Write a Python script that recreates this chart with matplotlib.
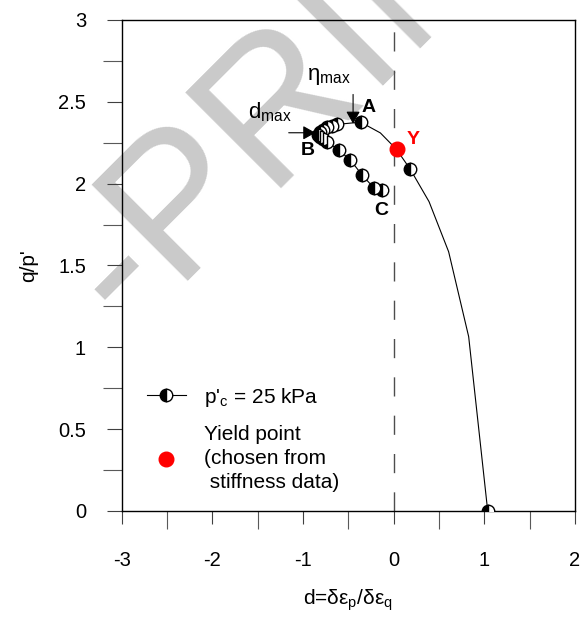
import numpy as np
import matplotlib
matplotlib.use("Agg")
import matplotlib.pyplot as plt
from matplotlib.lines import Line2D
from matplotlib.ticker import FixedLocator

plt.rcParams['font.family'] = ['Liberation Sans', 'DejaVu Sans']
plt.rcParams['axes.unicode_minus'] = False

# stress path: dilatancy d vs stress ratio q/p'
d = [1.037, 0.827, 0.606, 0.39, 0.184, 0.03, -0.147, -0.365, -0.624, -0.68,
     -0.735, -0.78, -0.815, -0.83, -0.815, -0.78, -0.734, -0.606, -0.477,
     -0.349, -0.22, -0.128]
q = [0.0, 1.065, 1.584, 1.89, 2.087, 2.21, 2.31, 2.376, 2.362, 2.355,
     2.345, 2.33, 2.315, 2.30, 2.285, 2.27, 2.256, 2.205, 2.144,
     2.053, 1.975, 1.961]
# indices of the path that carry a marker
marked = [0, 4, 7, 8, 9, 10, 11, 12, 13, 14, 15, 16, 17, 18, 19, 20, 21]

# yield point
yield_d = [0.037]
yield_q = [2.211]

# point labels (A = eta max, B = d max, C = end)
pt_names = ["A", "B", "C"]
pt_d = [-0.277, -0.952, -0.136]
pt_q = [2.468, 2.205, 1.833]

xticks = [-3, -2, -1, 0, 1, 2]
xticklabels = ["-3", "-2", "-1", "0", "1", "2"]
yticks = [0, 0.5, 1, 1.5, 2, 2.5, 3]
yticklabels = ["0", "0.5", "1", "1.5", "2", "2.5", "3"]

fig = plt.figure(figsize=(5.81, 6.19), dpi=100)
fig.patch.set_facecolor("white")
ax = fig.add_axes([0.2095, 0.1745, 0.7802, 0.7932])
ax.set_facecolor("none")

# watermark behind everything
fig.text(128 / 581, 1 - 332 / 619, "-PRINT", fontsize=142, rotation=45,
         rotation_mode="anchor", ha="left", va="baseline", color="#cacaca",
         zorder=-1)

ax.axvline(0, color="0.3", lw=1.0, linestyle=(0, (13.8, 13.8)), zorder=1)

ax.plot(d, q, color="black", lw=0.8, marker="o", markevery=marked, ms=9,
        fillstyle="left", mfc="black", markerfacecoloralt="white",
        mec="black", mew=1.0, zorder=3)
ax.plot(yield_d, yield_q, "o", color="red", ms=10.5, zorder=4)

for name, x, y in zip(pt_names, pt_d, pt_q):
    ax.text(x, y, name, fontsize=14, fontweight="bold", ha="center", va="center")
ax.text(0.216, 2.272, "Y", fontsize=14, fontweight="bold", color="red",
        ha="center", va="center")

# arrows for eta max and d max
arr = dict(arrowstyle="-|>,head_length=0.75,head_width=0.42", color="black",
           lw=0.8, shrinkA=0, shrinkB=0)
ax.annotate("", xy=(-0.448, 2.366), xytext=(-0.448, 2.545), arrowprops=arr)
ax.annotate("", xy=(-0.864, 2.311), xytext=(-1.158, 2.311), arrowprops=arr)
ax.text(-0.955, 2.633, r"η$_\mathregular{max}$", fontsize=16, ha="left", va="baseline")
ax.text(-1.602, 2.396, r"d$_\mathregular{max}$", fontsize=16, ha="left", va="baseline")

ax.set_xlim(-3, 2)
ax.set_ylim(0, 3)
ax.xaxis.set_major_locator(FixedLocator(xticks))
ax.set_xticklabels(xticklabels)
ax.xaxis.set_minor_locator(FixedLocator([-2.5, -1.5, -0.5, 0.5, 1.5]))
ax.yaxis.set_major_locator(FixedLocator(yticks))
ax.set_yticklabels(yticklabels)
ax.yaxis.set_minor_locator(FixedLocator([0.25, 0.75, 1.25, 1.75, 2.25, 2.75]))

ax.tick_params(axis="x", which="major", direction="out", length=9.7, width=0.8,
               color="0.25", pad=19, labelsize=14.5)
ax.tick_params(axis="x", which="minor", direction="out", length=13, width=0.8,
               color="0.35")
ax.tick_params(axis="y", which="major", direction="out", length=10.8, width=0.8,
               color="0.25", pad=14.9, labelsize=14.5)
ax.tick_params(axis="y", which="minor", direction="out", length=13.7, width=0.8,
               color="0.35")
for s in ax.spines.values():
    s.set_linewidth(1.0)

ax.set_xlabel("d=δε$_\\mathregular{p}$/δε$_\\mathregular{q}$", fontsize=15)
ax.xaxis.set_label_coords(0.5, -0.155)
ax.set_ylabel("q/p'", fontsize=15)
ax.yaxis.set_label_coords(-0.185, 0.5)

h1 = Line2D([], [], color="black", lw=0.8, marker="o", ms=9, fillstyle="left",
            mfc="black", markerfacecoloralt="white", mec="black", mew=1.0)
h2 = Line2D([], [], ls="none", marker="o", color="red", ms=10.5)
leg = ax.legend([h1, h2], ["p'$_\\mathregular{c}$ = 25 kPa",
                           "Yield point\n(chosen from\n stiffness data)"],
                loc="upper left", bbox_to_anchor=(0.055, 0.255), frameon=False,
                fontsize=15, handlelength=1.9, handletextpad=0.85,
                labelspacing=0.8, borderpad=0, borderaxespad=0, numpoints=1)
for t in leg.get_texts():
    t.set_linespacing(1.33)

plt.savefig("out.png", dpi=100)
